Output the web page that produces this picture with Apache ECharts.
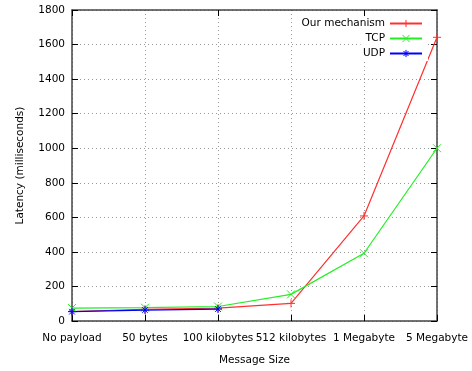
<!DOCTYPE html>
<html>
<head>
<meta charset="utf-8">
<script src="https://cdn.jsdelivr.net/npm/echarts@6/dist/echarts.min.js"></script>
<style>
  html, body { margin: 0; padding: 0; background: #fff; }
  #chart { width: 472px; height: 371px; }
</style>
</head>
<body>
<div id="chart"></div>
<script>
// message sizes on the x axis
var categories = ['No payload', '50 bytes', '100 kilobytes', '512 kilobytes', '1 Megabyte', '5 Megabyte'];
// latency in ms
var ourMechanism = [55, 68, 74, 102, 608, 1642];
var tcp = [75, 77, 84, 154, 392, 1000];
var udp = [54, 63, 69];

var FONT = 'DejaVu Sans';
var plusPath = 'path://M0,5L10,5M5,0L5,10';
var crossPath = 'path://M0,0L10,10M10,0L0,10';
var starPath = 'path://M0,5L10,5M5,0L5,10M1.5,1.5L8.5,8.5M8.5,1.5L1.5,8.5';

function mkSeries(name, data, color, symbol) {
	return {
		name: name,
		type: 'line',
		data: data,
		symbol: symbol,
		symbolSize: 8,
		showAllSymbol: true,
		lineStyle: { color: color, width: 1.2 },
		itemStyle: { color: color, borderColor: color, borderWidth: 1 },
		emphasis: { disabled: true }
	};
}

function mkLegend(name, top) {
	return {
		data: [name],
		right: 44,
		top: top,
		align: 'right',
		itemWidth: 32,
		itemHeight: 9,
		itemGap: 0,
		padding: [2, 5],
		backgroundColor: '#fff',
		itemStyle: { borderWidth: 1 },
		textStyle: { fontFamily: FONT, fontSize: 10.5, color: '#000' }
	};
}

var chart = echarts.init(document.getElementById('chart'));
var gridLine = { show: true, lineStyle: { color: '#999', type: [1, 3], width: 1 } };
var border = { show: true, onZero: false, lineStyle: { color: '#444', width: 1.5 } };
var ticks = { show: true, inside: true, length: 6, lineStyle: { color: '#000' } };
var option = {
	animation: false,
	grid: { left: 72, right: 35, top: 10, bottom: 49 },
	legend: [
		mkLegend('Our mechanism', 16),
		mkLegend('TCP', 31),
		mkLegend('UDP', 46)
	],
	xAxis: [{
		type: 'category',
		data: categories,
		boundaryGap: false,
		name: 'Message Size',
		nameLocation: 'middle',
		nameGap: 34,
		nameTextStyle: { fontFamily: FONT, fontSize: 10.5, color: '#000' },
		axisLine: border,
		axisTick: ticks,
		axisLabel: { fontFamily: FONT, fontSize: 10.5, color: '#000', margin: 12, interval: 0 },
		splitLine: gridLine
	}, {
		type: 'category',
		data: categories,
		boundaryGap: false,
		position: 'top',
		axisLine: border,
		axisTick: ticks,
		axisLabel: { show: false },
		splitLine: { show: false }
	}],
	yAxis: [{
		type: 'value',
		min: 0,
		max: 1800,
		interval: 200,
		name: 'Latency (milliseconds)',
		nameLocation: 'middle',
		nameGap: 46,
		nameTextStyle: { fontFamily: FONT, fontSize: 10.5, color: '#000' },
		axisLine: border,
		axisTick: ticks,
		axisLabel: {
			fontFamily: FONT, fontSize: 10.5, color: '#000', margin: 7,
			formatter: function (v) { return String(v); }
		},
		splitLine: gridLine
	}, {
		type: 'value',
		min: 0,
		max: 1800,
		interval: 200,
		position: 'right',
		axisLine: border,
		axisTick: ticks,
		axisLabel: { show: false },
		splitLine: { show: false }
	}],
	series: [
		mkSeries('Our mechanism', ourMechanism, '#ff3030', plusPath),
		mkSeries('TCP', tcp, '#22ee22', crossPath),
		mkSeries('UDP', udp, '#0000ff', starPath)
	]
};
chart.setOption(option);
</script>
</body>
</html>
